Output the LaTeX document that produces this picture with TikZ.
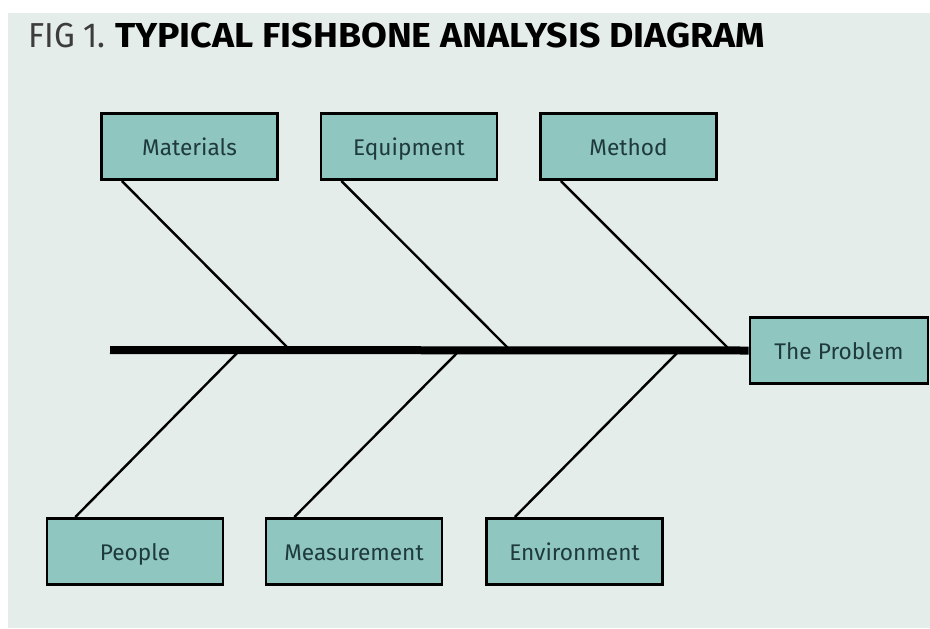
\documentclass[tikz,border=0pt]{standalone}
\usepackage{fontspec}
\setmainfont{Fira Sans}
\usepackage{tikz}

\definecolor{panel}{RGB}{229,237,234}
\definecolor{boxfill}{RGB}{143,198,191}
\definecolor{labelink}{RGB}{30,58,58}
\definecolor{figgray}{RGB}{60,60,60}

\begin{document}
\begin{tikzpicture}
        [
            x = 0.75pt, y = -0.75pt,
            cause/.style = {draw = black, line width = 2.2pt, fill = boxfill,
                            minimum width = 132pt, minimum height = 49.5pt,
                            inner sep = 0pt, text = labelink,
                            text height = 14pt, text depth = 0pt,
                            font = \fontsize{17}{20}\selectfont},
            bone/.style  = {draw = black, line width = 1.8pt},
            spine/.style = {draw = black, line width = 6pt}
        ]
        \useasboundingbox (0,0) rectangle (930,628);
        \fill[white] (0,0) rectangle (930,628);
        \fill[panel] (8,13) rectangle (930,628);

        % title
        \node[anchor = base west, inner sep = 0pt,
              font = \fontsize{26}{30}\selectfont] (title) at (28,47)
            {{\color{figgray}\scalebox{0.95}[1]{FIG 1.}} \scalebox{1.08}[1]{\textbf{TYPICAL FISHBONE ANALYSIS DIAGRAM}}};

        % head and causes
        \node[cause, minimum width = 133.5pt, minimum height = 50pt] (problem) at (839,350.5) {The Problem};

        \node[cause] (materials) at (189.5,146.5) {Materials};
        \node[cause] (equipment) at (409,146.5) {Equipment};
        \node[cause] (method)    at (628.5,146.5) {Method};

        \node[cause] (people)      at (135,551.5) {People};
        \node[cause] (measurement) at (354,551.5) {Measurement};
        \node[cause] (environment) at (574.5,551.5) {Environment};

        % spine
        \coordinate (tail) at (110,350);
        \coordinate (j1) at (290,350);
        \coordinate (j2) at (510,350);
        \coordinate (j3) at (730,350);
        \coordinate (k1) at (240,350);
        \coordinate (k2) at (460,350);
        \coordinate (k3) at (680,350);
        \draw[spine] (tail) -- (problem.west);

        % bones
        \draw[bone] (materials.207) -- (j1);
        \draw[bone] (equipment.207) -- (j2);
        \draw[bone] (method.207)    -- (j3);
        \draw[bone] (people.150)      -- (k1);
        \draw[bone] (measurement.150) -- (k2);
        \draw[bone] (environment.150) -- (k3);
    \end{tikzpicture}
\end{document}
